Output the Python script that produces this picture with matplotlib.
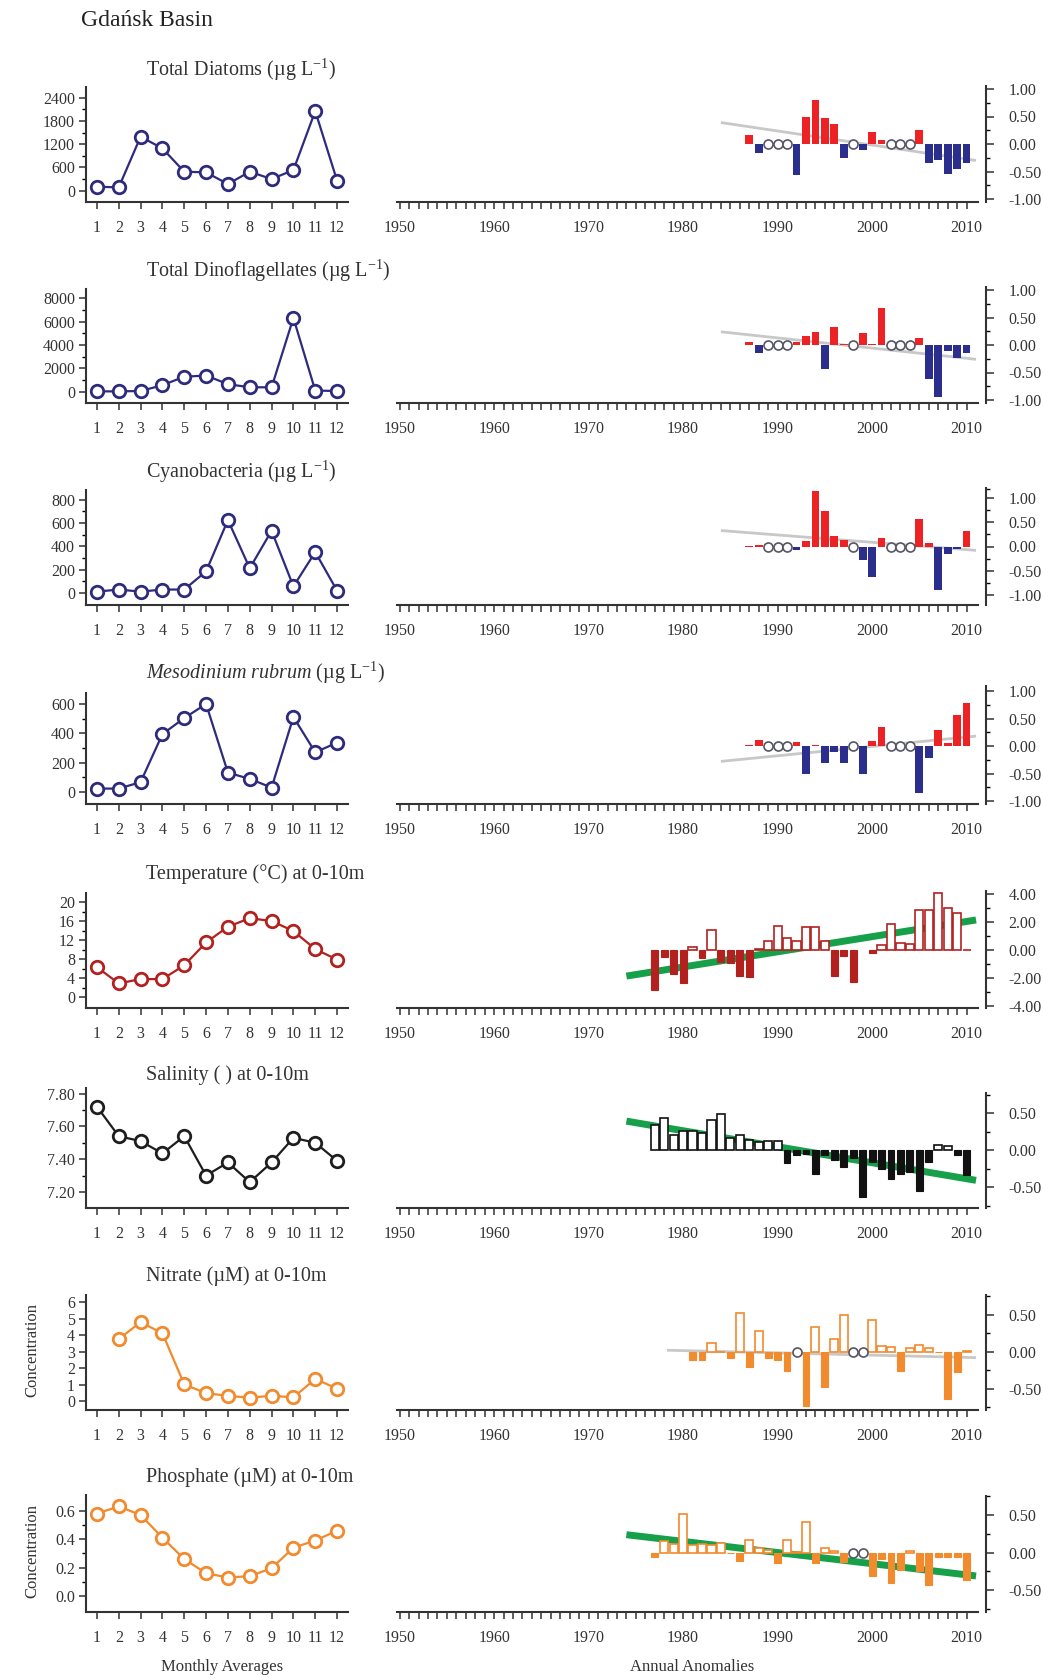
import numpy as np
import matplotlib.pyplot as plt
from matplotlib.ticker import FixedLocator, FormatStrFormatter

plt.rcParams['font.family'] = ['Liberation Serif', 'DejaVu Serif']
plt.rcParams['mathtext.fontset'] = 'custom'
plt.rcParams['mathtext.rm'] = 'Liberation Serif'
plt.rcParams['mathtext.it'] = 'Liberation Serif:italic'
plt.rcParams['axes.unicode_minus'] = False

# ---- monthly averages ----
months = np.arange(1, 13)
diatoms_month = [103, 86, 1393, 1092, 490, 473, 172, 490, 301, 533, 2055, 258]
dino_month = [20, 20, 50, 550, 1280, 1380, 640, 370, 370, 6330, 90, 50]
cyano_month = [10, 28, 10, 28, 28, 184, 625, 211, 533, 55, 350, 18]
meso_month = [22, 22, 66, 394, 504, 600, 131, 88, 29, 511, 270, 336]
temp_month = [6.3, 2.9, 3.8, 3.8, 6.7, 11.5, 14.8, 16.6, 16.0, 13.9, 10.1, 7.9]
sal_month = [7.72, 7.54, 7.51, 7.435, 7.54, 7.30, 7.38, 7.26, 7.38, 7.53, 7.50, 7.39]
nitrate_month = [np.nan, 3.77, 4.79, 4.12, 1.01, 0.47, 0.32, 0.20, 0.32, 0.22, 1.34, 0.75]
phos_month = [0.58, 0.63, 0.57, 0.41, 0.26, 0.16, 0.13, 0.14, 0.195, 0.34, 0.39, 0.46]

# ---- annual anomalies ----
years_bio = np.arange(1987, 2011)
diatoms_anom = [0.16, -0.17, np.nan, np.nan, np.nan, -0.56, 0.50, 0.80, 0.48, 0.36, -0.26, np.nan,
                -0.11, 0.22, 0.07, np.nan, np.nan, np.nan, 0.25, -0.34, -0.29, -0.55, -0.46, -0.35]
dino_anom = [0.05, -0.15, np.nan, np.nan, np.nan, 0.05, 0.17, 0.24, -0.44, 0.32, 0.01, np.nan,
             0.21, 0.02, 0.67, np.nan, np.nan, np.nan, 0.12, -0.62, -0.95, -0.11, -0.24, -0.14]
cyano_anom = [0.02, 0.04, np.nan, np.nan, np.nan, -0.08, 0.12, 1.14, 0.74, 0.21, 0.14, np.nan,
              -0.28, -0.63, 0.18, np.nan, np.nan, np.nan, 0.56, 0.08, -0.90, -0.15, -0.06, 0.33]
meso_anom = [0.02, 0.11, np.nan, np.nan, np.nan, 0.08, -0.50, 0.02, -0.30, -0.10, -0.30, np.nan,
             -0.51, 0.09, 0.34, np.nan, np.nan, np.nan, -0.85, -0.21, 0.29, 0.05, 0.56, 0.79]

years_phys = np.arange(1977, 2011)
temp_anom = [-2.86, -0.52, -1.70, -2.35, 0.19, -0.60, 1.43, -0.83, -0.90, -1.85, -1.95, 0.05,
             0.67, 1.71, 0.83, 0.67, 1.62, 1.62, 0.64, -1.86, -0.40, -2.26, np.nan, -0.24,
             0.36, 1.86, 0.52, 0.43, 2.83, 2.83, 4.07, 2.95, 2.60, 0.0]
sal_anom = [0.34, 0.43, 0.20, 0.26, 0.26, 0.23, 0.40, 0.49, 0.16, 0.20, 0.14, 0.11, 0.12, 0.12,
            -0.18, -0.07, -0.05, -0.33, -0.07, -0.14, -0.23, -0.11, -0.63, -0.16, -0.25, -0.39,
            -0.32, -0.30, -0.55, -0.16, 0.07, 0.05, -0.07, -0.34]
nitrate_anom = [np.nan, np.nan, np.nan, np.nan, -0.11, -0.11, 0.12, 0.0, -0.09, 0.52, -0.21, 0.28,
                -0.08, -0.11, -0.26, np.nan, -0.73, 0.33, -0.47, 0.17, 0.50, np.nan, np.nan, 0.43,
                0.07, 0.06, -0.26, 0.05, 0.09, 0.05, -0.01, -0.63, -0.27, 0.01]
phos_anom = [-0.06, 0.15, 0.12, 0.52, 0.10, 0.12, 0.10, 0.13, -0.01, -0.11, 0.17, 0.06, 0.03,
             -0.14, 0.17, 0.01, 0.41, -0.14, 0.06, 0.02, -0.13, np.nan, np.nan, -0.31, -0.08,
             -0.41, -0.23, 0.02, -0.25, -0.43, -0.06, -0.06, -0.06, -0.36]

# years without data, shown as open circles on the zero line
bio_missing = [1989, 1990, 1991, 1998, 2002, 2003, 2004]
nitrate_missing = [1992, 1998, 1999]
phos_missing = [1998, 1999]

# trend lines (end points)
diatoms_trend = ([1984, 2011], [0.39, -0.30])
dino_trend = ([1984, 2011], [0.24, -0.26])
cyano_trend = ([1984, 2011], [0.33, -0.08])
meso_trend = ([1984, 2011], [-0.28, 0.18])
temp_trend = ([1974, 2011], [-1.85, 2.13])
sal_trend = ([1974, 2011], [0.39, -0.41])
nitrate_trend = ([1978.3, 2011], [0.02, -0.08])
phos_trend = ([1974, 2011], [0.24, -0.31])

titles = ['Total Diatoms (µg L$^{-1}$)', 'Total Dinoflagellates (µg L$^{-1}$)',
          'Cyanobacteria (µg L$^{-1}$)', r'$\mathit{Mesodinium\ rubrum}$ (µg L$^{-1}$)',
          'Temperature (°C) at 0-10m', 'Salinity ( ) at 0-10m',
          'Nitrate (µM) at 0-10m', 'Phosphate (µM) at 0-10m']

W, H = 1043, 1678
fig = plt.figure(figsize=(W / 100, H / 100), dpi=100)


def box(l, t, r, b):
    return [l / W, 1 - b / H, (r - l) / W, (b - t) / H]


navy = '#2e2b7c'
red = '#ec2224'
blue = '#2b2e8c'
dred = '#b3211f'
orange = '#f28a2e'
green = '#17a04a'
grey = '#c8c8c8'

# per row: left calib (v_a, p_a, v_b, p_b), spine top, x-axis px, ticks, minors, fmt
rows = [
    dict(m=diatoms_month, mc=navy, lc=(0, 190.7, 2400, 97.7), lt=87, xb=201.5,
         yt=[0, 600, 1200, 1800, 2400], ym=[300, 900, 1500, 2100], lf='%d',
         yrs=years_bio, a=diatoms_anom, style='bio', miss=bio_missing, tr=diatoms_trend, tc=grey, tw=2,
         z0=144, u=55, rt=86, rtk=[-1, -0.5, 0, 0.5, 1], rm=[-0.75, -0.25, 0.25, 0.75]),
    dict(m=dino_month, mc=navy, lc=(0, 391.6, 8000, 298.5), lt=289, xb=403,
         yt=[0, 2000, 4000, 6000, 8000], ym=[1000, 3000, 5000, 7000], lf='%d',
         yrs=years_bio, a=dino_anom, style='bio', miss=bio_missing, tr=dino_trend, tc=grey, tw=2,
         z0=345, u=55, rt=287, rtk=[-1, -0.5, 0, 0.5, 1], rm=[-0.75, -0.25, 0.25, 0.75]),
    dict(m=cyano_month, mc=navy, lc=(0, 592.8, 800, 499.7), lt=490, xb=604.5,
         yt=[0, 200, 400, 600, 800], ym=[100, 300, 500, 700], lf='%d',
         yrs=years_bio, a=cyano_anom, style='bio', miss=bio_missing, tr=cyano_trend, tc=grey, tw=2,
         z0=546.5, u=48.3, rt=488, rtk=[-1, -0.5, 0, 0.5, 1], rm=[-0.75, -0.25, 0.25, 0.75, 1.2]),
    dict(m=meso_month, mc=navy, lc=(0, 791.8, 600, 704), lt=693, xb=804,
         yt=[0, 200, 400, 600], ym=[100, 300, 500], lf='%d',
         yrs=years_bio, a=meso_anom, style='bio', miss=bio_missing, tr=meso_trend, tc=grey, tw=2,
         z0=746, u=55, rt=686, rtk=[-1, -0.5, 0, 0.5, 1], rm=[-0.75, -0.25, 0.25, 0.75]),
    dict(m=temp_month, mc=dred, lc=(0, 997.2, 20, 902), lt=893, xb=1008,
         yt=[0, 4, 8, 12, 16, 20], ym=[2, 6, 10, 14, 18], lf='%d',
         yrs=years_phys, a=temp_anom, style=dred, miss=[], tr=temp_trend, tc=green, tw=5,
         z0=950, u=14.1, rt=891, rtk=[-4, -2, 0, 2, 4], rm=[-3, -1, 1, 3]),
    dict(m=sal_month, mc='#1e1e1e', lc=(7.2, 1192, 7.8, 1093.5), lt=1088, xb=1208,
         yt=[7.2, 7.4, 7.6, 7.8], ym=[7.3, 7.5, 7.7], lf='%.2f',
         yrs=years_phys, a=sal_anom, style='#111111', miss=[], tr=sal_trend, tc=green, tw=5,
         z0=1150, u=74, rt=1093, rtk=[-0.5, 0, 0.5], rm=[-0.75, -0.25, 0.25, 0.75]),
    dict(m=nitrate_month, mc=orange, lc=(0, 1401, 6, 1302.3), lt=1295, xb=1410,
         yt=[0, 1, 2, 3, 4, 5, 6], ym=[], lf='%d',
         yrs=years_phys, a=nitrate_anom, style=orange, miss=nitrate_missing, tr=nitrate_trend, tc=grey, tw=2,
         z0=1351.7, u=74.3, rt=1295, rtk=[-0.5, 0, 0.5], rm=[-0.75, -0.25, 0.25, 0.75]),
    dict(m=phos_month, mc=orange, lc=(0, 1596, 0.6, 1510.7), lt=1495, xb=1612,
         yt=[0, 0.2, 0.4, 0.6], ym=[0.1, 0.3, 0.5], lf='%.1f',
         yrs=years_phys, a=phos_anom, style=orange, miss=phos_missing, tr=phos_trend, tc=green, tw=5,
         z0=1552.7, u=75, rt=1496, rtk=[-0.5, 0, 0.5], rm=[-0.75, -0.25, 0.25, 0.75]),
]

title_y = [69.5, 270.7, 471.8, 673, 874, 1075, 1276, 1477]

yr_px0, yr_step = 399.6, 9.45
def yr2px(y):
    return yr_px0 + (y - 1950) * yr_step

for i, r in enumerate(rows):
    xb = r['xb']
    # ---------- left: monthly averages ----------
    ax = fig.add_axes(box(86, r['lt'], 348, xb))
    va, pa, vb, pb = r['lc']
    s = (vb - va) / (pb - pa)
    ax.set_ylim(va + (xb - pa) * s, va + (r['lt'] - pa) * s)
    ax.set_xlim(0.5, 12.5)
    ax.plot(months, r['m'], '-o', color=r['mc'], lw=1.6, ms=9, mew=2,
            mfc='white', mec=r['mc'], clip_on=False, zorder=3)
    for sp in ['top', 'right']:
        ax.spines[sp].set_visible(False)
    for sp in ['left', 'bottom']:
        ax.spines[sp].set_linewidth(1.5)
        ax.spines[sp].set_color('#333333')
    ax.set_xticks(months)
    ax.set_xticklabels([str(m) for m in months])
    ax.yaxis.set_major_locator(FixedLocator(r['yt']))
    ax.yaxis.set_minor_locator(FixedLocator(r['ym']))
    ax.yaxis.set_major_formatter(FormatStrFormatter(r['lf']))
    ax.tick_params(axis='both', which='major', direction='out', length=5, width=1.1,
                   labelsize=11.5, colors='#333333')
    ax.tick_params(axis='x', pad=8)
    ax.tick_params(axis='y', pad=3)
    ax.tick_params(axis='y', which='minor', direction='out', length=3, width=1)
    ax.patch.set_alpha(0)

    # ---------- right: annual anomalies ----------
    axr = fig.add_axes(box(yr2px(1949.5), r['rt'], yr2px(2012.1), xb))
    axr.set_xlim(1949.5, 2012.1)
    axr.set_ylim((r['z0'] - xb) / r['u'], (r['z0'] - r['rt']) / r['u'])
    yrs = np.asarray(r['yrs'])
    vals = np.asarray(r['a'], dtype=float)
    ok = ~np.isnan(vals)
    if r['style'] == 'bio':
        cols = [red if v >= 0 else blue for v in vals[ok]]
        axr.bar(yrs[ok], vals[ok], width=0.82, color=cols, zorder=2)
    else:
        c = r['style']
        pos = ok & (vals >= 0)
        neg = ok & (vals < 0)
        axr.bar(yrs[pos], vals[pos], width=0.86, facecolor='white', edgecolor=c,
                linewidth=1.2, zorder=2)
        axr.bar(yrs[neg], vals[neg], width=0.72, facecolor=c, edgecolor=c,
                linewidth=0.8, zorder=2)
    axr.plot(r['tr'][0], r['tr'][1], color=r['tc'], lw=r['tw'], zorder=1,
             solid_capstyle='butt')
    if r['miss']:
        axr.plot(r['miss'], np.zeros(len(r['miss'])), 'o', ms=6.5, mfc='white',
                 mec='#555566', mew=1.2, zorder=4)
    for sp in ['top', 'left']:
        axr.spines[sp].set_visible(False)
    for sp in ['right', 'bottom']:
        axr.spines[sp].set_linewidth(1.5)
        axr.spines[sp].set_color('#333333')
    axr.spines['bottom'].set_bounds(1949.7, 2011.2)
    ticks = list(range(1950, 2011))
    axr.set_xticks(ticks)
    axr.set_xticklabels([str(t) if t % 10 == 0 else '' for t in ticks])
    axr.yaxis.tick_right()
    axr.yaxis.set_major_locator(FixedLocator(r['rtk']))
    axr.yaxis.set_minor_locator(FixedLocator(r['rm']))
    axr.yaxis.set_major_formatter(FormatStrFormatter('%.2f'))
    axr.tick_params(axis='both', which='major', direction='out', length=5, width=1.1,
                    labelsize=11.5, colors='#333333')
    axr.tick_params(axis='x', pad=8)
    axr.tick_params(axis='y', length=6, pad=10)
    axr.tick_params(axis='y', which='minor', direction='out', length=3, width=1)
    axr.patch.set_alpha(0)

    fig.text(145.5 / W, 1 - title_y[i] / H, titles[i], ha='left', va='center',
             fontsize=14.5, color='#333333')

fig.text(81 / W, 1 - 21 / H, 'Gdańsk Basin', ha='left', va='center', fontsize=17,
         color='#222222')
fig.text(32 / W, 1 - 1350 / H, 'Concentration', rotation=90, ha='center', va='center',
         fontsize=12, color='#333333')
fig.text(32 / W, 1 - 1551.5 / H, 'Concentration', rotation=90, ha='center', va='center',
         fontsize=12, color='#333333')
fig.text(222.5 / W, 1 - 1667 / H, 'Monthly Averages', ha='center', va='center',
         fontsize=12, color='#333333')
fig.text(692 / W, 1 - 1667 / H, 'Annual Anomalies', ha='center', va='center',
         fontsize=12, color='#333333')

fig.savefig('out.png', dpi=100)
